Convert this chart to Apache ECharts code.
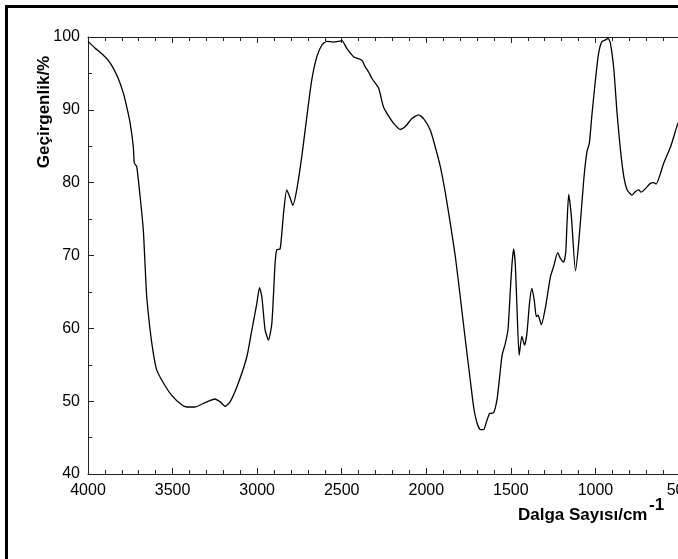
<!DOCTYPE html>
<html>
<head>
<meta charset="utf-8">
<script src="https://cdn.jsdelivr.net/npm/echarts@6/dist/echarts.min.js"></script>
<style>
  html, body { margin: 0; padding: 0; background: #fff; }
  #ir-chart { width: 678px; height: 559px; }
</style>
</head>
<body>
<div id="ir-chart"></div>
<script>
// dalga sayısı (cm-1), soldan sağa azalan
const wavenumber = [4000, 3959, 3909, 3880, 3850, 3821, 3791, 3771, 3751, 3732, 3726, 3712, 3692, 3673, 3663, 3653, 3633, 3614, 3594, 3554, 3505, 3446, 3416, 3367, 3308, 3249, 3219, 3189, 3160, 3111, 3061, 3031, 3002, 2986, 2972, 2953, 2933, 2913, 2894, 2884, 2864, 2844, 2825, 2805, 2789, 2766, 2736, 2706, 2677, 2647, 2617, 2588, 2549, 2519, 2499, 2469, 2430, 2381, 2361, 2341, 2321, 2282, 2253, 2213, 2184, 2154, 2124, 2085, 2046, 2016, 1976, 1947, 1917, 1888, 1858, 1828, 1799, 1769, 1740, 1720, 1700, 1680, 1661, 1641, 1625, 1602, 1582, 1566, 1552, 1533, 1517, 1503, 1493, 1484, 1474, 1464, 1451, 1435, 1419, 1405, 1390, 1376, 1362, 1349, 1339, 1320, 1296, 1266, 1247, 1223, 1207, 1188, 1176, 1168, 1158, 1142, 1118, 1099, 1069, 1050, 1036, 1020, 1000, 981, 961, 941, 925, 911, 891, 872, 852, 832, 812, 783, 763, 744, 730, 704, 675, 655, 641, 615, 596, 556, 537, 513, 500];
// geçirgenlik (%)
const transmittance = [99.4, 98.5, 97.5, 96.8, 95.7, 94.3, 92.3, 90.4, 88.2, 84.9, 82.7, 82.2, 78.1, 73.5, 68.9, 64.4, 59.8, 56.6, 54.3, 52.5, 50.8, 49.5, 49.2, 49.2, 49.8, 50.3, 49.9, 49.3, 49.9, 52.5, 56.1, 59.8, 63.4, 65.6, 64.3, 59.8, 58.4, 60.7, 68.9, 70.8, 70.9, 75.8, 79.0, 77.9, 76.9, 79.0, 83.6, 89.1, 94.1, 97.3, 98.9, 99.4, 99.3, 99.4, 99.5, 98.4, 97.3, 96.8, 95.9, 95.2, 94.3, 93.0, 90.4, 88.8, 87.9, 87.3, 87.7, 88.8, 89.3, 88.8, 87.2, 84.9, 82.2, 78.7, 74.4, 69.8, 64.3, 58.4, 52.9, 49.2, 47.0, 46.1, 46.1, 47.4, 48.3, 48.4, 50.2, 53.4, 56.3, 57.9, 59.8, 65.3, 68.9, 70.9, 68.9, 63.0, 56.3, 58.9, 57.7, 59.3, 63.4, 65.5, 63.9, 61.6, 61.8, 60.5, 62.8, 67.1, 68.5, 70.4, 69.6, 69.1, 70.3, 74.4, 78.4, 75.3, 67.9, 71.7, 80.4, 84.3, 85.4, 89.5, 94.1, 97.8, 99.4, 99.6, 99.8, 99.1, 95.5, 89.5, 84.5, 80.8, 79.0, 78.3, 78.8, 79.0, 78.7, 79.2, 79.9, 80.0, 79.8, 81.3, 82.7, 84.9, 86.3, 88.1, 88.6];

const xMin = 500, xMax = 4000, xStep = 500;
const yMin = 40, yMax = 100, yStep = 10;
const yTitle = 'Geçirgenlik/%';
const xTitle = 'Dalga Sayısı/cm';
const xTitleSup = '-1';

const font = 'Liberation Sans, Arial, sans-serif';
const axisCommon = {
    axisLine: { show: true, lineStyle: { color: '#222', width: 1 } },
    axisTick: { show: true, inside: true, length: 6, lineStyle: { color: '#222' } },
    minorTick: { show: true, length: 4, lineStyle: { color: '#222' } },
    splitLine: { show: false },
    minorSplitLine: { show: false }
};

let points = wavenumber.map((w, i) => [w, transmittance[i]]);

let chart = echarts.init(document.getElementById('ir-chart'), null, { renderer: 'canvas' });
chart.setOption({
    animation: false,
    backgroundColor: '#fff',
    // grafik sağdan biraz taşıyor (500 etiketi kesik)
    grid: { left: 88, top: 37, right: -2, bottom: 85, containLabel: false, outerBoundsMode: 'none' },
    xAxis: [
        Object.assign({}, axisCommon, {
            type: 'value', position: 'bottom', inverse: true,
            min: xMin, max: xMax, interval: xStep,
            minorTick: Object.assign({}, axisCommon.minorTick, { splitNumber: 5 }),
            axisLabel: { color: '#000', fontSize: 16, fontFamily: font, margin: 9, showMinLabel: true, showMaxLabel: true, hideOverlap: false,
                formatter: v => String(v) }
        }),
        Object.assign({}, axisCommon, {
            type: 'value', position: 'top', inverse: true,
            min: xMin, max: xMax, interval: xStep,
            minorTick: Object.assign({}, axisCommon.minorTick, { splitNumber: 5 }),
            axisLabel: { show: false }
        })
    ],
    yAxis: [
        Object.assign({}, axisCommon, {
            type: 'value', position: 'left',
            min: yMin, max: yMax, interval: yStep,
            minorTick: Object.assign({}, axisCommon.minorTick, { splitNumber: 2 }),
            axisLabel: { color: '#000', fontSize: 16, fontFamily: font, margin: 8 }
        })
    ],
    series: [{
        type: 'line',
        data: points,
        showSymbol: false,
        smooth: 0.2,
        clip: true,
        lineStyle: { color: '#000', width: 1.3 }
    }],
    graphic: [
        // dış çerçeve
        { type: 'rect', silent: true, shape: { x: 6.5, y: 6.5, width: 720, height: 620 },
          style: { fill: null, stroke: '#000', lineWidth: 3 } },
        { type: 'text', x: 44, y: 112, rotation: Math.PI / 2,
          style: { text: yTitle, font: 'bold 17px ' + font, fill: '#000', align: 'center', verticalAlign: 'middle' } },
        { type: 'text', x: 518, y: 515,
          style: { text: xTitle, font: 'bold 17px ' + font, fill: '#000', align: 'left', verticalAlign: 'middle' } },
        { type: 'text', x: 649, y: 505,
          style: { text: xTitleSup, font: 'bold 17px ' + font, fill: '#000', align: 'left', verticalAlign: 'middle' } }
    ]
});
</script>
</body>
</html>
